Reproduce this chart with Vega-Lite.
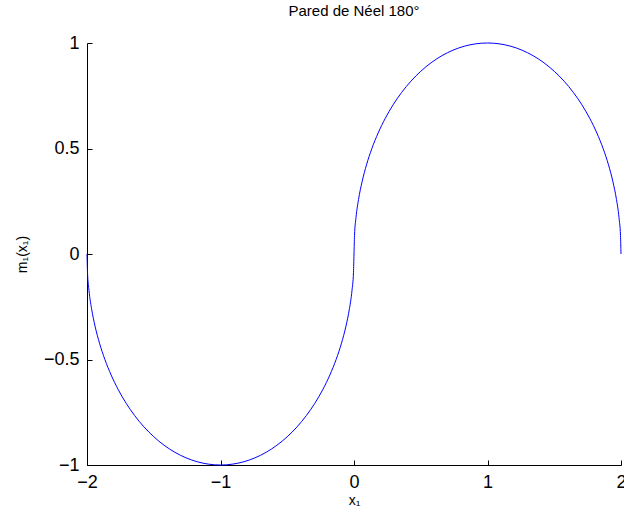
{
  "$schema": "https://vega.github.io/schema/vega-lite/v6.json",
  "width": 534,
  "height": 422,
  "autosize": {"type": "none"},
  "padding": {"left": 87, "top": 43, "right": 3, "bottom": 47},
  "background": "white",
  "config": {"view": {"stroke": null}, "font": "Liberation Sans"},
  "title": {"text": "Pared de Néel 180°", "fontSize": 15, "fontWeight": "normal", "font": "Liberation Sans", "color": "black", "offset": 15},
  "data": {"values": [
    {"i": 0, "x": -2, "m": 0},
    {"i": 1, "x": -1.99619, "m": -0.08716},
    {"i": 2, "x": -1.98481, "m": -0.17365},
    {"i": 3, "x": -1.96593, "m": -0.25882},
    {"i": 4, "x": -1.93969, "m": -0.34202},
    {"i": 5, "x": -1.90631, "m": -0.42262},
    {"i": 6, "x": -1.86603, "m": -0.5},
    {"i": 7, "x": -1.81915, "m": -0.57358},
    {"i": 8, "x": -1.76604, "m": -0.64279},
    {"i": 9, "x": -1.70711, "m": -0.70711},
    {"i": 10, "x": -1.64279, "m": -0.76604},
    {"i": 11, "x": -1.57358, "m": -0.81915},
    {"i": 12, "x": -1.5, "m": -0.86603},
    {"i": 13, "x": -1.42262, "m": -0.90631},
    {"i": 14, "x": -1.34202, "m": -0.93969},
    {"i": 15, "x": -1.25882, "m": -0.96593},
    {"i": 16, "x": -1.17365, "m": -0.98481},
    {"i": 17, "x": -1.08716, "m": -0.99619},
    {"i": 18, "x": -1, "m": -1},
    {"i": 19, "x": -0.91284, "m": -0.99619},
    {"i": 20, "x": -0.82635, "m": -0.98481},
    {"i": 21, "x": -0.74118, "m": -0.96593},
    {"i": 22, "x": -0.65798, "m": -0.93969},
    {"i": 23, "x": -0.57738, "m": -0.90631},
    {"i": 24, "x": -0.5, "m": -0.86603},
    {"i": 25, "x": -0.42642, "m": -0.81915},
    {"i": 26, "x": -0.35721, "m": -0.76604},
    {"i": 27, "x": -0.29289, "m": -0.70711},
    {"i": 28, "x": -0.23396, "m": -0.64279},
    {"i": 29, "x": -0.18085, "m": -0.57358},
    {"i": 30, "x": -0.13397, "m": -0.5},
    {"i": 31, "x": -0.09369, "m": -0.42262},
    {"i": 32, "x": -0.06031, "m": -0.34202},
    {"i": 33, "x": -0.03407, "m": -0.25882},
    {"i": 34, "x": -0.01519, "m": -0.17365},
    {"i": 35, "x": -0.00381, "m": -0.08716},
    {"i": 36, "x": 0, "m": 0},
    {"i": 37, "x": 0.00381, "m": 0.08716},
    {"i": 38, "x": 0.01519, "m": 0.17365},
    {"i": 39, "x": 0.03407, "m": 0.25882},
    {"i": 40, "x": 0.06031, "m": 0.34202},
    {"i": 41, "x": 0.09369, "m": 0.42262},
    {"i": 42, "x": 0.13397, "m": 0.5},
    {"i": 43, "x": 0.18085, "m": 0.57358},
    {"i": 44, "x": 0.23396, "m": 0.64279},
    {"i": 45, "x": 0.29289, "m": 0.70711},
    {"i": 46, "x": 0.35721, "m": 0.76604},
    {"i": 47, "x": 0.42642, "m": 0.81915},
    {"i": 48, "x": 0.5, "m": 0.86603},
    {"i": 49, "x": 0.57738, "m": 0.90631},
    {"i": 50, "x": 0.65798, "m": 0.93969},
    {"i": 51, "x": 0.74118, "m": 0.96593},
    {"i": 52, "x": 0.82635, "m": 0.98481},
    {"i": 53, "x": 0.91284, "m": 0.99619},
    {"i": 54, "x": 1, "m": 1},
    {"i": 55, "x": 1.08716, "m": 0.99619},
    {"i": 56, "x": 1.17365, "m": 0.98481},
    {"i": 57, "x": 1.25882, "m": 0.96593},
    {"i": 58, "x": 1.34202, "m": 0.93969},
    {"i": 59, "x": 1.42262, "m": 0.90631},
    {"i": 60, "x": 1.5, "m": 0.86603},
    {"i": 61, "x": 1.57358, "m": 0.81915},
    {"i": 62, "x": 1.64279, "m": 0.76604},
    {"i": 63, "x": 1.70711, "m": 0.70711},
    {"i": 64, "x": 1.76604, "m": 0.64279},
    {"i": 65, "x": 1.81915, "m": 0.57358},
    {"i": 66, "x": 1.86603, "m": 0.5},
    {"i": 67, "x": 1.90631, "m": 0.42262},
    {"i": 68, "x": 1.93969, "m": 0.34202},
    {"i": 69, "x": 1.96593, "m": 0.25882},
    {"i": 70, "x": 1.98481, "m": 0.17365},
    {"i": 71, "x": 1.99619, "m": 0.08716},
    {"i": 72, "x": 2, "m": 0}
  ]},
  "mark": {"type": "line", "color": "#0000ff", "strokeWidth": 1, "interpolate": "monotone"},
  "encoding": {
    "x": {"field": "x", "type": "quantitative",
      "scale": {"domain": [-2, 2], "nice": false, "zero": false},
      "axis": {"values": [-2, -1, 0, 1, 2], "format": "~g", "grid": false,
        "domainColor": "black", "domainWidth": 1, "tickColor": "black", "tickSize": -5, "tickWidth": 1,
        "labelFontSize": 18, "labelColor": "black", "labelFont": "Liberation Sans", "labelPadding": 13, "labelFlush": false,
        "title": "x₁", "titleFontSize": 14, "titleFontWeight": "normal", "titleColor": "black", "titleFont": "Liberation Sans", "titlePadding": 2}},
    "y": {"field": "m", "type": "quantitative",
      "scale": {"domain": [-1, 1], "nice": false, "zero": false},
      "axis": {"values": [-1, -0.5, 0, 0.5, 1], "format": "~g", "grid": false,
        "domainColor": "black", "domainWidth": 1, "tickColor": "black", "tickSize": -5, "tickWidth": 1,
        "labelFontSize": 18, "labelColor": "black", "labelFont": "Liberation Sans", "labelPadding": 13, "labelFlush": false,
        "title": "m₁(x₁)", "titleFontSize": 14, "titleFontWeight": "normal", "titleColor": "black", "titleFont": "Liberation Sans", "titlePadding": 14}},
    "order": {"field": "i", "type": "quantitative"}
  }
}
